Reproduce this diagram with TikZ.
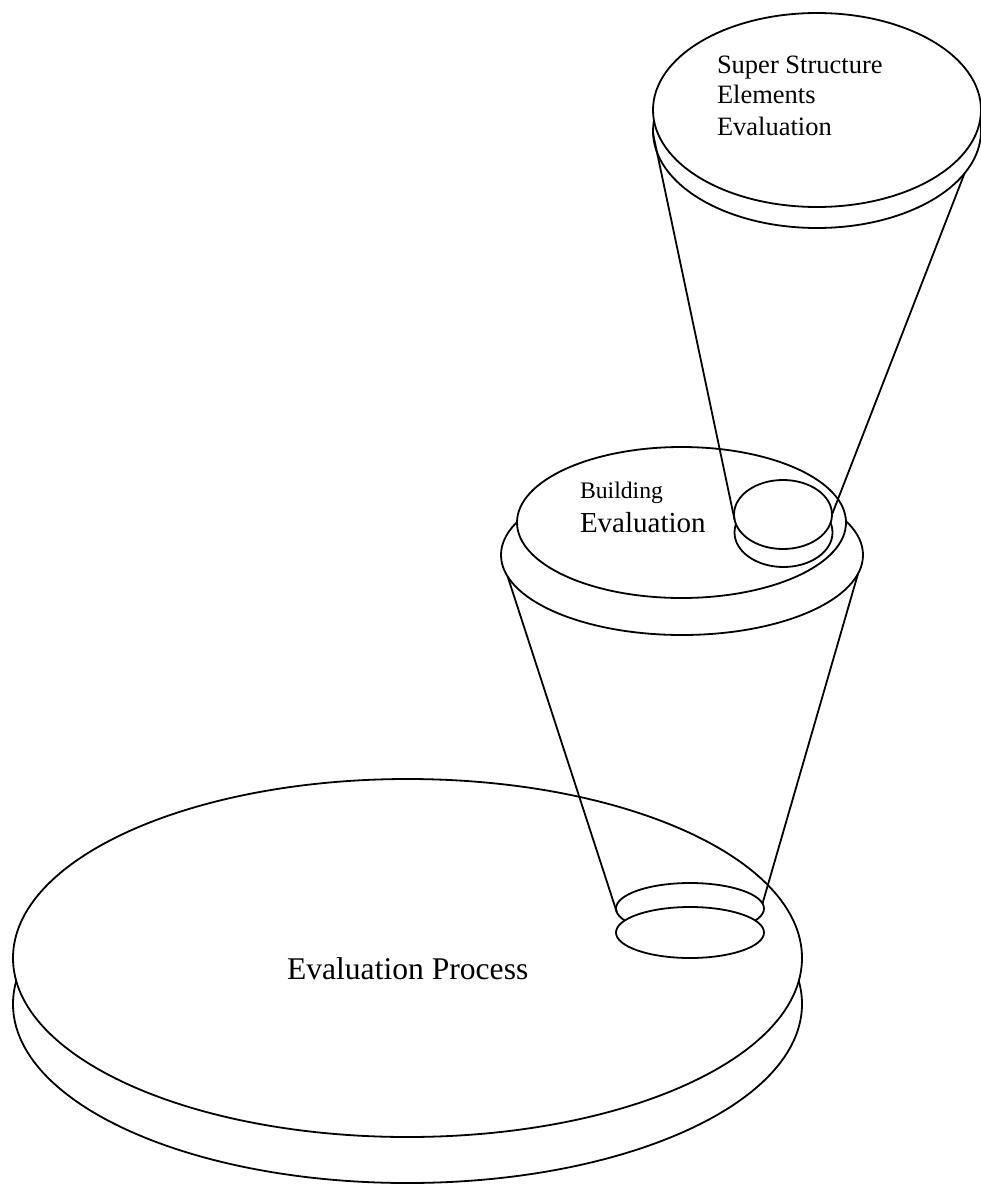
\documentclass[tikz,border=0pt]{standalone}
\usepackage{fontspec}
\setmainfont{Liberation Serif}
\usetikzlibrary{shapes.geometric}
\tikzset{
  disk/.style={ellipse, draw=black, fill=white, line width=1.8pt, inner sep=0pt, outer sep=0pt},
  cone/.style={draw=black, line width=1.8pt},
  lbl/.style={inner sep=0pt, outer sep=0pt, anchor=base west, text=black}
}
\begin{document}
\begin{tikzpicture}[x=1pt,y=-1pt]
\useasboundingbox (0,0) rectangle (980,1185);
% big disk
\node[disk, minimum width=789pt, minimum height=358pt] (bigbot) at (407.5,1004) {};
\node[disk, minimum width=789pt, minimum height=358pt] (bigtop) at (407.5,958) {};
% small hole on big disk
\node[disk, minimum width=148pt, minimum height=51pt] (holeup) at (690,908.5) {};
\node[disk, minimum width=148pt, minimum height=51pt] (holelow) at (690,932.5) {};
% middle disk
\node[disk, minimum width=362pt, minimum height=160pt] (midbot) at (682,555) {};
\node[disk, minimum width=329pt, minimum height=151pt] (midtop) at (681.5,522.5) {};
% small hole on middle disk
\node[disk, minimum width=98pt, minimum height=69pt] (sholelow) at (783.5,532.5) {};
\node[disk, minimum width=98pt, minimum height=69pt] (sholeup) at (783,514.5) {};
% top disk
\node[disk, minimum width=328pt, minimum height=194pt] (topbot) at (817,131) {};
\node[disk, minimum width=328pt, minimum height=194pt] (toptop) at (817,110) {};
% cone lines
\draw[cone] (midbot.187) -- (holeup.183);
\draw[cone] (midbot.354) -- (holeup.4);
\draw[cone] (topbot.181) -- (sholeup.186);
\draw[cone] (topbot.344) -- (sholeup.east);
% texts
\node[lbl, font=\fontsize{31.6pt}{36pt}\selectfont] (tproc) at (287,979) {Evaluation Process};
\node[lbl, font=\fontsize{23.7pt}{27pt}\selectfont] (tbuild) at (580,498) {Building};
\node[lbl, font=\fontsize{29pt}{33pt}\selectfont] (teval) at (580,532) {Evaluation};
\node[lbl, font=\fontsize{26.5pt}{31pt}\selectfont] (tsuper) at (717,74) {Super Structure};
\node[lbl, font=\fontsize{26.5pt}{31pt}\selectfont] (telem) at (717,104) {Elements};
\node[lbl, font=\fontsize{26.5pt}{31pt}\selectfont] (tseval) at (717,136) {Evaluation};
\end{tikzpicture}
\end{document}
